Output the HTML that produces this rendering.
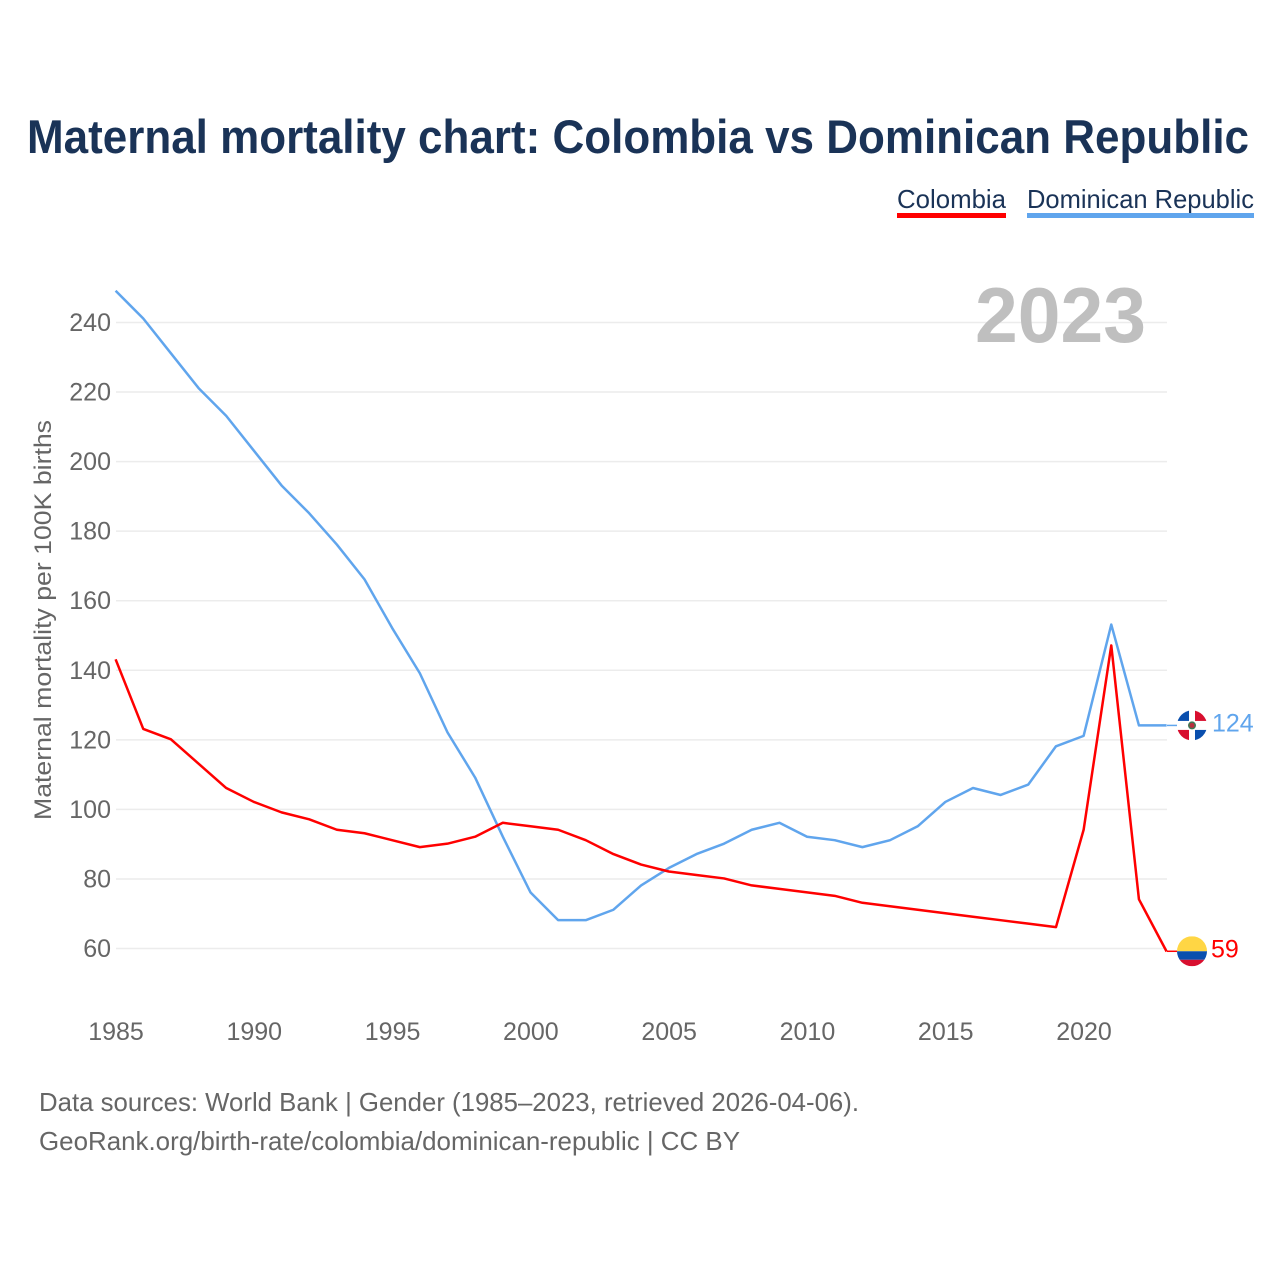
<!DOCTYPE html>
<html lang="en">
<head>
<meta charset="utf-8">
<title>Maternal mortality chart: Colombia vs Dominican Republic</title>
<style>
html,body{margin:0;padding:0;background:#fff;}
svg{display:block;font-family:"Liberation Sans",sans-serif;}
</style>
</head>
<body>
<svg id="chart" xmlns="http://www.w3.org/2000/svg" width="1280" height="1280" viewBox="0 0 1280 1280">
  <rect width="1280" height="1280" fill="#ffffff"/>
  <text x="27" y="153" font-size="47" font-weight="700" fill="#1a3357" textLength="1222" lengthAdjust="spacingAndGlyphs">Maternal mortality chart: Colombia vs Dominican Republic</text>

  <g>
    <text x="897" y="208" font-size="26" fill="#1a3357" textLength="109" lengthAdjust="spacingAndGlyphs">Colombia</text>
    <rect x="897" y="213" width="109" height="5" fill="#ff0000"/>
  </g>
  <g>
    <text x="1027" y="208" font-size="26" fill="#1a3357" textLength="227" lengthAdjust="spacingAndGlyphs">Dominican Republic</text>
    <rect x="1027" y="213" width="227" height="5" fill="#60a5ed"/>
  </g>

  <g id="grid"></g>
  <g id="yticks"></g>
  <g id="xticks"></g>

  <text x="975" y="342" font-size="78" font-weight="700" fill="#bfbfbf" textLength="171" lengthAdjust="spacingAndGlyphs">2023</text>

  <text transform="translate(51 620) rotate(-90)" text-anchor="middle" font-size="24.5" fill="#666666" textLength="400" lengthAdjust="spacingAndGlyphs">Maternal mortality per 100K births</text>

  <g id="series" transform="translate(-0.4 -0.5)"></g>
  <g id="ends"></g>

  <text x="39" y="1111" font-size="26" fill="#666666" textLength="820" lengthAdjust="spacingAndGlyphs">Data sources: World Bank | Gender (1985–2023, retrieved 2026-04-06).</text>
  <text x="39" y="1150" font-size="26" fill="#666666" textLength="701" lengthAdjust="spacingAndGlyphs">GeoRank.org/birth-rate/colombia/dominican-republic | CC BY</text>
</svg>
<script>
const years = [1985,1986,1987,1988,1989,1990,1991,1992,1993,1994,1995,1996,1997,1998,1999,2000,2001,2002,2003,2004,2005,2006,2007,2008,2009,2010,2011,2012,2013,2014,2015,2016,2017,2018,2019,2020,2021,2022,2023];
const colombia = [143,123,120,113,106,102,99,97,94,93,91,89,90,92,96,95,94,91,87,84,82,81,80,78,77,76,75,73,72,71,70,69,68,67,66,94,147,74,59];
const dominicanRepublic = [249,241,231,221,213,203,193,185,176,166,152,139,122,109,92,76,68,68,71,78,83,87,90,94,96,92,91,89,91,95,102,106,104,107,118,121,153,124,124];
const yTickValues = [60,80,100,120,140,160,180,200,220,240];
const xTickValues = [1985,1990,1995,2000,2005,2010,2015,2020];

const SVG_NS = 'http://www.w3.org/2000/svg';
const xScale = function (year) { return 116 + (year - 1985) * (1167 - 116) / 38; };
const yScale = function (value) { return 948.5 - (value - 60) * (948.5 - 322.5) / 180; };

function make(tag, attrs, parent) {
  const el = document.createElementNS(SVG_NS, tag);
  Object.keys(attrs).forEach(function (k) { el.setAttribute(k, attrs[k]); });
  parent.appendChild(el);
  return el;
}

const grid = document.getElementById('grid');
const yticks = document.getElementById('yticks');
yTickValues.forEach(function (v) {
  const line = make('line', {x1: 116, x2: 1167, y1: yScale(v), y2: yScale(v), stroke: '#ececec', 'stroke-width': 1.5}, grid);
  
  
  const label = make('text', {x: 111, y: yScale(v) + 8.5, 'text-anchor': 'end', 'font-size': 25, fill: '#666666'}, yticks);
  label.textContent = String(v);
  
  
});

const xticks = document.getElementById('xticks');
xTickValues.forEach(function (y) {
  const label = make('text', {x: xScale(y), y: 1040, 'text-anchor': 'middle', 'font-size': 25, fill: '#666666'}, xticks);
  label.textContent = String(y);
  
  
});

function points(values) {
  return values.map(function (v, i) { return xScale(years[i]).toFixed(2) + ',' + yScale(v).toFixed(2); }).join(' ');
}

const series = document.getElementById('series');
const lineDr = make('polyline', {points: points(dominicanRepublic), fill: 'none', stroke: '#60a5ed', 'stroke-width': 2.5, 'stroke-linejoin': 'round'}, series);


const lineCo = make('polyline', {points: points(colombia), fill: 'none', stroke: '#ff0000', 'stroke-width': 2.5, 'stroke-linejoin': 'round'}, series);



const ends = document.getElementById('ends');
const defs = make('defs', {}, ends);
const lastYear = years[years.length - 1];
const endX = xScale(lastYear);
const flagCx = endX + 25;

/* Dominican Republic end marker */
const drVal = dominicanRepublic[dominicanRepublic.length - 1];
const drY = yScale(drVal) - 0.5;
const drClip = make('clipPath', {id: 'clip-dr'}, defs);
make('circle', {cx: flagCx, cy: drY, r: 15}, drClip);
const drConn = make('line', {x1: endX, x2: flagCx - 15, y1: drY, y2: drY, stroke: '#60a5ed', 'stroke-width': 1.5}, ends);


const drFlag = make('g', {'clip-path': 'url(#clip-dr)'}, ends);


make('rect', {x: flagCx - 15, y: drY - 15, width: 30, height: 30, fill: '#ffffff'}, drFlag);
make('rect', {x: flagCx - 15, y: drY - 15, width: 12, height: 10.5, fill: '#0a4fae'}, drFlag);
make('rect', {x: flagCx + 3, y: drY - 15, width: 12, height: 10.5, fill: '#d80f2f'}, drFlag);
make('rect', {x: flagCx - 15, y: drY + 4.5, width: 12, height: 10.5, fill: '#d80f2f'}, drFlag);
make('rect', {x: flagCx + 3, y: drY + 4.5, width: 12, height: 10.5, fill: '#0a4fae'}, drFlag);
make('circle', {cx: flagCx, cy: drY, r: 4, fill: '#3f7a55'}, drFlag);
make('circle', {cx: flagCx, cy: drY, r: 2.5, fill: '#b8303f'}, drFlag);
const drLabel = make('text', {x: flagCx + 20, y: yScale(drVal) + 5.8, 'font-size': 25, fill: '#60a5ed'}, ends);
drLabel.textContent = String(drVal);



/* Colombia end marker */
const coVal = colombia[colombia.length - 1];
const coY = yScale(coVal) - 0.7;
const coClip = make('clipPath', {id: 'clip-co'}, defs);
make('circle', {cx: flagCx, cy: coY, r: 15}, coClip);
const coConn = make('line', {x1: endX, x2: flagCx - 15, y1: coY, y2: coY, stroke: '#ff0000', 'stroke-width': 1.5}, ends);


const coFlag = make('g', {'clip-path': 'url(#clip-co)'}, ends);


make('rect', {x: flagCx - 15, y: coY - 15, width: 30, height: 15, fill: '#ffd644'}, coFlag);
make('rect', {x: flagCx - 15, y: coY, width: 30, height: 8.5, fill: '#0a4fae'}, coFlag);
make('rect', {x: flagCx - 15, y: coY + 8.5, width: 30, height: 6.5, fill: '#d80f2f'}, coFlag);
const coLabel = make('text', {x: flagCx + 19, y: yScale(coVal) + 5.3, 'font-size': 25, fill: '#ff0000'}, ends);
coLabel.textContent = String(coVal);


</script>
</body>
</html>
